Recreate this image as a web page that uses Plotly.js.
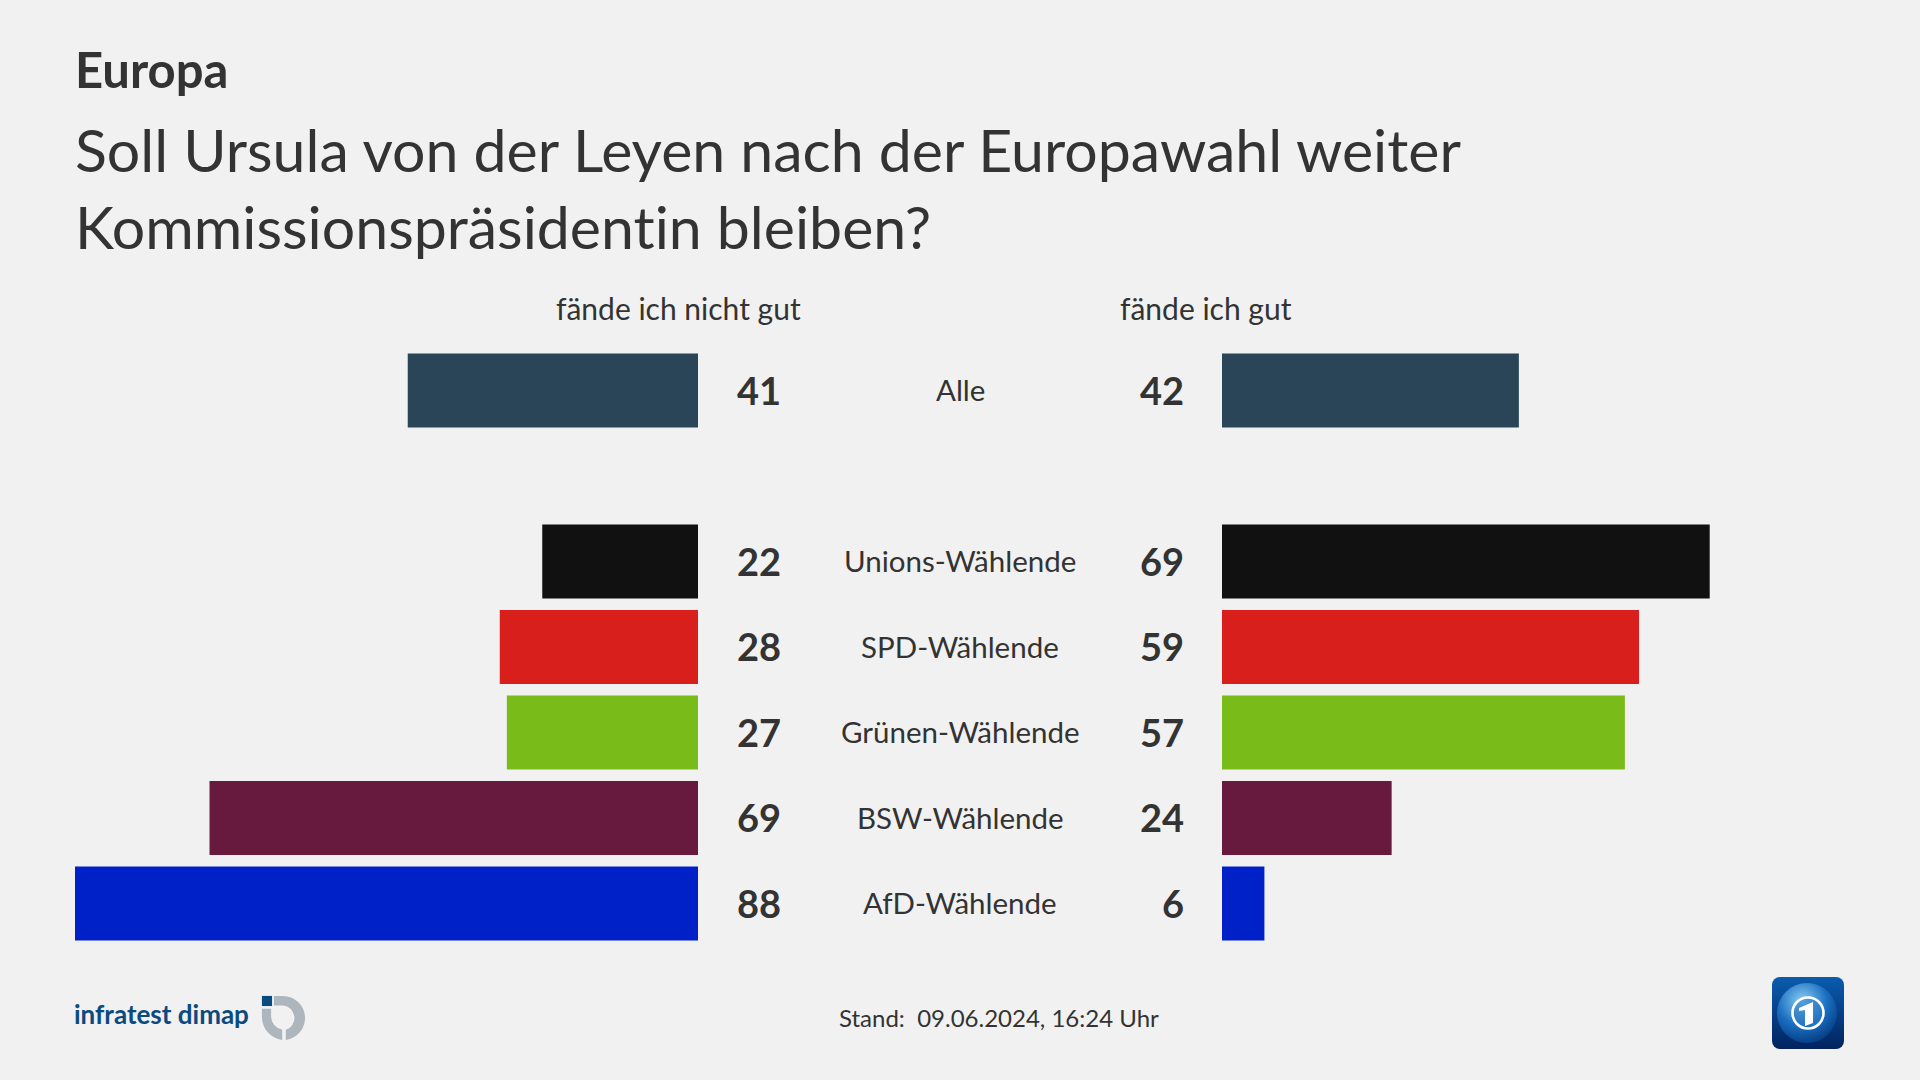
<!DOCTYPE html>
<html><head><meta charset="utf-8">
<script src="https://cdn.plot.ly/plotly-3.0.1.min.js"></script>
<style>html,body{margin:0;padding:0;background:#f1f1f1}svg text{font-variant-ligatures:none !important;font-feature-settings:"liga" 0,"clig" 0,"dlig" 0 !important}</style></head>
<body><div id="chart" style="width:1920px;height:1080px"></div>
<script>
const categories = ['Alle',' ','Unions-Wählende','SPD-Wählende','Grünen-Wählende','BSW-Wählende','AfD-Wählende'];
const nichtGut = [41,null,22,28,27,69,88];
const gut = [42,null,69,59,57,24,6];
const colors = ['#2a4557','#2a4557','#111111','#d91f1c','#79bc1a','#671a3e','#0020c8'];
const kicker = 'Europa';
const titleText = 'Soll Ursula von der Leyen nach der Europawahl weiter<br>Kommissionspräsidentin bleiben?';
const headLeft = 'fände ich nicht gut';
const headRight = 'fände ich gut';
const stand = 'Stand:  09.06.2024, 16:24 Uhr';
const W=1920,H=1080,F='Lato, "Noto Sans", sans-serif',T='#333333';
const px=x=>x/W, py=y=>1-y/H;
const ann=(text,x,y,size,opt={})=>Object.assign({text,x:px(x),y:py(y),xref:'paper',yref:'paper',showarrow:false,xanchor:'center',yanchor:'middle',font:{family:F,size,color:T}},opt);
const annotations=[
 ann(kicker,73,69,49,{xanchor:'left',font:{family:F,size:49,color:T,weight:700}}),
 ann(headLeft,678,308,30),
 ann(headRight,1206,308,30),
 ann(stand,999,1017,24),
 ann('infratest dimap',72,1014,26,{xanchor:'left',font:{family:F,size:26,color:'#0b4a80',weight:700}})
];
categories.forEach((c,i)=>{
 if(nichtGut[i]===null) return;
 annotations.push({text:c,x:px(960),y:c,xref:'paper',yref:'y',yshift:1,showarrow:false,xanchor:'center',font:{family:F,size:29.5,color:T}});
 annotations.push({text:'<b>'+nichtGut[i]+'</b>',x:px(780.5),y:c,xref:'paper',yref:'y',yshift:1,showarrow:false,xanchor:'right',xshift:2,font:{family:F,size:38,color:T}});
 annotations.push({text:'<b>'+gut[i]+'</b>',x:px(1183.5),y:c,xref:'paper',yref:'y',yshift:1,showarrow:false,xanchor:'right',xshift:2,font:{family:F,size:38,color:T}});
});
const logoI='<svg xmlns="http://www.w3.org/2000/svg" viewBox="0 0 50 50"><rect x="1" y="1" width="11" height="11" fill="#0b4a80"/><path d="M14 1h10a24 24 0 0 1 3 47.8v-11a13.5 13.5 0 0 0-3-26.3h-10z" fill="#aeb6bd"/><path d="M1 15h10v9a14 14 0 0 0 12 13.6v11.2A25 25 0 0 1 1 24z" fill="#aeb6bd"/></svg>';
const logoT='<svg xmlns="http://www.w3.org/2000/svg" viewBox="0 0 72 72"><defs><linearGradient id="g" x1="0" y1="0" x2="0" y2="1"><stop offset="0" stop-color="#0a5cae"/><stop offset="1" stop-color="#02235f"/></linearGradient><radialGradient id="b" cx=".42" cy=".3" r=".75"><stop offset="0" stop-color="#8ccdf2"/><stop offset=".55" stop-color="#1a6fc0"/><stop offset="1" stop-color="#04387f"/></radialGradient></defs><rect width="72" height="72" rx="8" fill="url(#g)"/><circle cx="35" cy="36" r="30" fill="url(#b)"/><circle cx="36" cy="36" r="15.5" fill="#2a78c2" fill-opacity=".55" stroke="#fff" stroke-width="2.6"/><path d="M27 31l14-6v21l-8 3V33l-6 1z" fill="#fff"/></svg>';
const uri=s=>'data:image/svg+xml;charset=utf-8,'+encodeURIComponent(s);
const data=[
 {type:'bar',orientation:'h',x:nichtGut,y:categories,xaxis:'x',yaxis:'y',marker:{color:colors},showlegend:false,hoverinfo:'x+y'},
 {type:'bar',orientation:'h',x:gut,y:categories,xaxis:'x2',yaxis:'y',marker:{color:colors},showlegend:false,hoverinfo:'x+y'}
];
const off={showgrid:false,zeroline:false,showticklabels:false,ticks:'',showline:false,fixedrange:true};
const layout={
 width:W,height:H,margin:{l:0,r:0,t:0,b:0},autosize:false,
 paper_bgcolor:'#f1f1f1',plot_bgcolor:'#f1f1f1',bargap:0.135,
 title:{text:titleText,x:px(75),xanchor:'left',xref:'paper',y:py(172),yanchor:'top',font:{family:F,size:59,color:T}},
 xaxis:Object.assign({},off,{domain:[px(75),px(698)],range:[88,0]}),
 xaxis2:Object.assign({},off,{domain:[px(1222),px(1222+622)],range:[0,88]}),
 yaxis:Object.assign({},off,{domain:[py(946.35),py(347.85)],type:'category',categoryorder:'array',categoryarray:categories,autorange:'reversed'}),
 annotations,
 images:[
  {source:uri(logoI),xref:'paper',yref:'paper',x:px(261),y:py(995),sizex:px(46),sizey:46/H,xanchor:'left',yanchor:'top',layer:'above'},
  {source:uri(logoT),xref:'paper',yref:'paper',x:px(1772),y:py(977),sizex:px(72),sizey:72/H,xanchor:'left',yanchor:'top',layer:'above'}
 ]
};
Plotly.newPlot('chart',data,layout,{displayModeBar:false,responsive:false});
</script></body></html>
